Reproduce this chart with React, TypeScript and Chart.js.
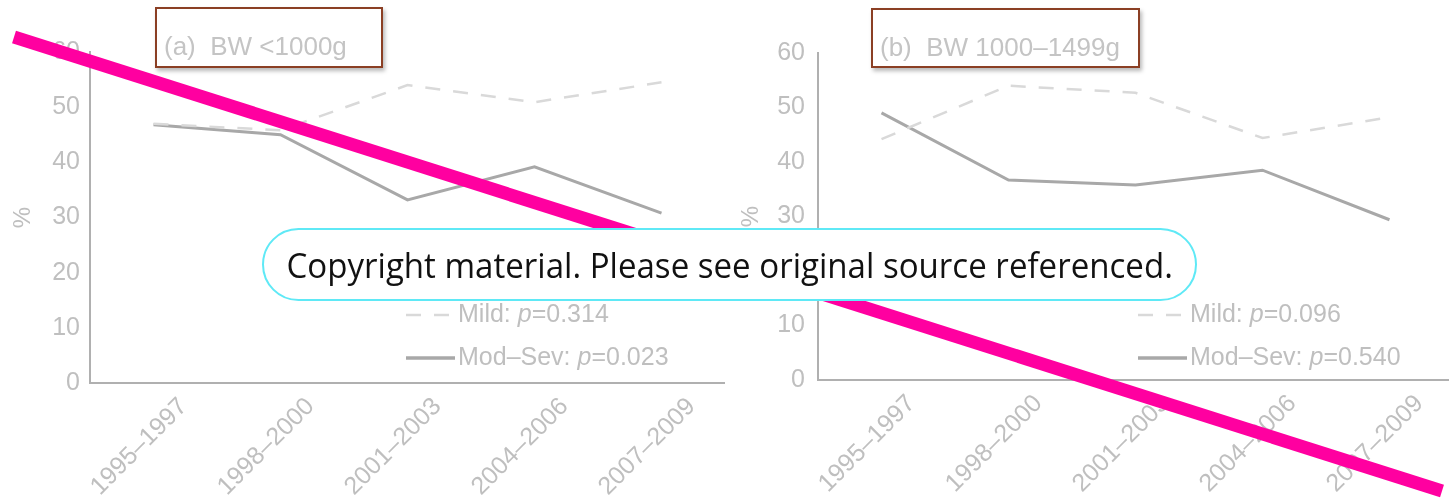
import React, { useEffect, useRef } from 'react';
import { Chart, registerables } from 'chart.js';

Chart.register(...registerables);

// ---------- data ----------
const periods = ['1995–1997', '1998–2000', '2001–2003', '2004–2006', '2007–2009'];
const mildA = [47.0, 45.8, 54.0, 50.9, 54.5];
const modSevA = [46.8, 45.0, 33.2, 39.2, 30.8];
const mildB = [44.2, 54.0, 52.7, 44.4, 48.2];
const modSevB = [49.0, 36.7, 35.8, 38.5, 29.4];
const yTicks = [0, 10, 20, 30, 40, 50, 60];
const panelTitles = ['(a)  BW <1000g', '(b)  BW 1000–1499g'];
const seriesNames = ['Mild', 'Mod–Sev'];
const mildP = ['0.314', '0.096'];
const modSevP = ['0.023', '0.540'];
const notice = 'Copyright material. Please see original source referenced.';

// ---------- styles ----------
const FONT = "'Liberation Sans', Arial, Helvetica, sans-serif";
const TEXT = '#bfbfbf';
const AXIS = '#b0b0b0';
const MILD_COLOR = '#d9d9d9';
const MOD_COLOR = '#a8a8a8';

const legendPlugin = {
  id: 'pLegend',
  afterDatasetsDraw(chart: any, _args: any, opts: any) {
    const { ctx, chartArea } = chart;
    const x0 = chartArea.left + opts.dx;
    const rows = [
      { y: chartArea.bottom - opts.dyMild, name: seriesNames[0], p: opts.mildP, dash: true },
      { y: chartArea.bottom - opts.dyMod, name: seriesNames[1], p: opts.modP, dash: false },
    ];
    ctx.save();
    for (const r of rows) {
      ctx.beginPath();
      if (r.dash) {
        ctx.setLineDash([15, 13]);
        ctx.strokeStyle = MILD_COLOR;
        ctx.lineWidth = 2.5;
        ctx.moveTo(x0, r.y);
        ctx.lineTo(x0 + 44, r.y);
      } else {
        ctx.setLineDash([]);
        ctx.strokeStyle = MOD_COLOR;
        ctx.lineWidth = 3.5;
        ctx.moveTo(x0, r.y);
        ctx.lineTo(x0 + 49, r.y);
      }
      ctx.stroke();
      ctx.setLineDash([]);
      ctx.fillStyle = TEXT;
      ctx.textBaseline = 'middle';
      ctx.textAlign = 'left';
      let x = x0 + 52;
      const normal = `25px ${FONT}`;
      const italic = `italic 25px ${FONT}`;
      ctx.font = normal;
      const s1 = r.name + ': ';
      ctx.fillText(s1, x, r.y);
      x += ctx.measureText(s1).width;
      ctx.font = italic;
      ctx.fillText('p', x, r.y);
      x += ctx.measureText('p').width;
      ctx.font = normal;
      ctx.fillText('=' + r.p, x, r.y);
    }
    ctx.restore();
  },
};

function makeConfig(
  mild: number[],
  mod: number[],
  o: { yWidth: number; xHeight: number; top: number; tickPad: number; titlePad: number; pIdx: number; dx: number; dyMild: number; dyMod: number }
): any {
  const font = { family: FONT, size: 25 };
  return {
    type: 'line',
    data: {
      labels: periods,
      datasets: [
        {
          label: seriesNames[0],
          data: mild,
          borderColor: MILD_COLOR,
          borderWidth: 2.5,
          borderDash: [15, 13],
          pointRadius: 0,
          tension: 0,
          fill: false,
        },
        {
          label: seriesNames[1],
          data: mod,
          borderColor: MOD_COLOR,
          borderWidth: 3,
          pointRadius: 0,
          tension: 0,
          fill: false,
        },
      ],
    },
    options: {
      responsive: false,
      maintainAspectRatio: false,
      animation: false,
      devicePixelRatio: 1,
      layout: { padding: { top: o.top, left: 0, right: 0, bottom: 0 } },
      plugins: {
        legend: { display: false },
        tooltip: { enabled: false },
        title: { display: false },
        pLegend: { dx: o.dx, dyMild: o.dyMild, dyMod: o.dyMod, mildP: mildP[o.pIdx], modP: modSevP[o.pIdx] },
      },
      scales: {
        x: {
          type: 'category',
          offset: true,
          grid: { display: false, drawTicks: false },
          border: { display: true, color: AXIS, width: 2 },
          ticks: {
            color: TEXT,
            font,
            minRotation: 45,
            maxRotation: 45,
            autoSkip: false,
            labelOffset: 30,
            padding: 9,
          },
          afterFit: (s: any) => {
            s.height = o.xHeight;
          },
        },
        y: {
          min: 0,
          max: 60,
          afterBuildTicks: (s: any) => {
            s.ticks = yTicks.map((v) => ({ value: v }));
          },
          grid: { display: false, drawTicks: false },
          border: { display: true, color: AXIS, width: 2 },
          ticks: { color: TEXT, font, padding: o.tickPad },
          title: {
            display: true,
            text: '%',
            color: TEXT,
            font: { family: FONT, size: 24 },
            padding: { top: o.titlePad, bottom: 0 },
          },
          afterFit: (s: any) => {
            s.width = o.yWidth;
          },
        },
      },
    },
    plugins: [legendPlugin],
  };
}

const titleBox = (left: number, top: number, w: number, h: number): React.CSSProperties => ({
  position: 'absolute',
  left,
  top,
  width: w,
  height: h,
  boxSizing: 'border-box',
  border: '2px solid #8b3f24',
  background: '#ffffff',
  boxShadow: '2px 3px 4px rgba(0,0,0,0.28)',
  fontFamily: FONT,
  fontSize: 26,
  color: '#c4c4c4',
  whiteSpace: 'pre',
  paddingLeft: 7,
  paddingTop: 22,
  lineHeight: '30px',
});

export default function App() {
  const refA = useRef<HTMLCanvasElement>(null);
  const refB = useRef<HTMLCanvasElement>(null);
  const noticeRef = useRef<HTMLSpanElement>(null);

  useEffect(() => {
    document.body.style.margin = '0';
    const a = new Chart(
      refA.current as HTMLCanvasElement,
      makeConfig(mildA, modSevA, { yWidth: 90, xHeight: 117, top: 52, tickPad: 10, titlePad: 9, pIdx: 0, dx: 316, dyMild: 68, dyMod: 25 })
    );
    const b = new Chart(
      refB.current as HTMLCanvasElement,
      makeConfig(mildB, modSevB, { yWidth: 93, xHeight: 120, top: 53, tickPad: 13, titlePad: 12, pIdx: 1, dx: 320, dyMild: 65, dyMod: 22 })
    );
    const sp = noticeRef.current;
    if (sp) {
      const w = sp.offsetWidth;
      if (w > 0) sp.style.transform = `scaleX(${886 / w})`;
    }
    return () => {
      a.destroy();
      b.destroy();
    };
  }, []);

  return (
    <div style={{ position: 'fixed', left: 0, top: 0, width: 1449, height: 500, overflow: 'hidden', background: '#ffffff' }}>
      <canvas ref={refA} width={725} height={500} style={{ position: 'absolute', left: 0, top: 0, width: 725, height: 500 }} />
      <canvas ref={refB} width={728} height={500} style={{ position: 'absolute', left: 725, top: 0, width: 728, height: 500 }} />
      <div style={titleBox(155, 7, 228, 61)}>{panelTitles[0]}</div>
      <div style={titleBox(871, 8, 269, 60)}>{panelTitles[1]}</div>
      <svg width={1449} height={500} style={{ position: 'absolute', left: 0, top: 0 }}>
        <line x1={14} y1={37} x2={1442} y2={491} stroke="#ff00a0" strokeWidth={13} />
      </svg>
      <div
        style={{
          position: 'absolute',
          left: 262,
          top: 228,
          width: 935,
          height: 73,
          boxSizing: 'border-box',
          border: '2.5px solid #5fe9f6',
          borderRadius: 37,
          background: '#ffffff',
          display: 'flex',
          alignItems: 'center',
          justifyContent: 'center',
          overflow: 'hidden',
        }}
      >
        <span
          ref={noticeRef}
          style={{
            display: 'inline-block',
            fontFamily: "'Open Sans', 'Noto Sans', sans-serif",
            fontSize: 34,
            fontWeight: 500,
            color: '#111111',
            whiteSpace: 'nowrap',
            transformOrigin: 'center center',
            lineHeight: '40px',
          }}
        >
          {notice}
        </span>
      </div>
    </div>
  );
}
